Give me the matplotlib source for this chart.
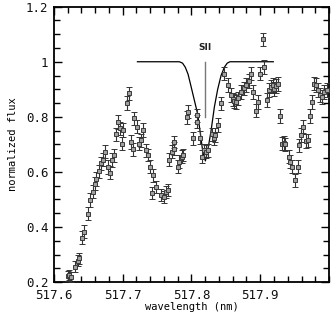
import matplotlib.pyplot as plt
from matplotlib.ticker import MultipleLocator

wl = [517.6198, 517.6226, 517.6246, 517.6300, 517.6343, 517.6357, 517.6405, 517.6444,
      517.6493, 517.6527, 517.6561, 517.6590, 517.6614, 517.6648, 517.6687, 517.6710,
      517.6745, 517.6793, 517.6808, 517.6851, 517.6866, 517.6900, 517.6938, 517.6963,
      517.6992, 517.7010, 517.7059, 517.7088, 517.7122, 517.7146, 517.7171, 517.7204,
      517.7243, 517.7268, 517.7301, 517.7340, 517.7364, 517.7398, 517.7428, 517.7436,
      517.7486, 517.7558, 517.7606, 517.7631, 517.7664, 517.7679, 517.7718, 517.7741,
      517.7752, 517.7800, 517.7824, 517.7863, 517.7882, 517.7940, 517.7955, 517.8017,
      517.8076, 517.8081, 517.8125, 517.8148, 517.8187, 517.8211, 517.8235, 517.8293,
      517.8322, 517.8347, 517.8381, 517.8430, 517.8478, 517.8526, 517.8575, 517.8599,
      517.8623, 517.8647, 517.8672, 517.8720, 517.8758, 517.8793, 517.8831, 517.8866,
      517.8889, 517.8938, 517.8962, 517.8996, 517.9034, 517.9059, 517.9092, 517.9131,
      517.9155, 517.9180, 517.9204, 517.9228, 517.9252, 517.9287, 517.9310, 517.9340,
      517.9364, 517.9412, 517.9432, 517.9456, 517.9505, 517.9543, 517.9567, 517.9592,
      517.9625, 517.9664, 517.9688, 517.9723, 517.9752, 517.9785, 517.9809, 517.9833,
      517.9868, 517.9897, 517.9930, 517.9964]
flux = [0.223, 0.226, 0.219, 0.256, 0.277, 0.286, 0.362, 0.383,
        0.449, 0.498, 0.528, 0.558, 0.574, 0.603, 0.631, 0.645,
        0.673, 0.618, 0.597, 0.643, 0.661, 0.736, 0.782, 0.758,
        0.703, 0.752, 0.849, 0.885, 0.709, 0.682, 0.794, 0.764,
        0.703, 0.715, 0.752, 0.679, 0.661, 0.619, 0.524, 0.588,
        0.546, 0.516, 0.510, 0.528, 0.534, 0.645, 0.673, 0.685,
        0.709, 0.619, 0.637, 0.655, 0.661, 0.798, 0.818, 0.722,
        0.806, 0.782, 0.725, 0.655, 0.679, 0.673, 0.679, 0.737,
        0.722, 0.734, 0.770, 0.849, 0.957, 0.915, 0.879, 0.863,
        0.858, 0.854, 0.867, 0.891, 0.903, 0.915, 0.931, 0.957,
        0.891, 0.822, 0.854, 0.957, 1.081, 0.981, 0.861, 0.897,
        0.910, 0.915, 0.900, 0.912, 0.919, 0.803, 0.703, 0.705,
        0.701, 0.655, 0.637, 0.619, 0.570, 0.619, 0.697, 0.734,
        0.764, 0.712, 0.715, 0.803, 0.854, 0.921, 0.915, 0.897,
        0.879, 0.873, 0.891, 0.897]
err = [0.018, 0.018, 0.018, 0.019, 0.020, 0.020, 0.022, 0.023,
       0.025, 0.025, 0.024, 0.024, 0.024, 0.024, 0.024, 0.024,
       0.024, 0.024, 0.024, 0.024, 0.024, 0.025, 0.025, 0.025,
       0.025, 0.025, 0.025, 0.025, 0.024, 0.024, 0.025, 0.024,
       0.024, 0.024, 0.024, 0.023, 0.023, 0.023, 0.022, 0.023,
       0.022, 0.022, 0.022, 0.022, 0.022, 0.023, 0.023, 0.023,
       0.023, 0.023, 0.023, 0.023, 0.023, 0.024, 0.024, 0.024,
       0.024, 0.024, 0.024, 0.023, 0.023, 0.023, 0.023, 0.024,
       0.024, 0.024, 0.024, 0.024, 0.025, 0.025, 0.025, 0.025,
       0.025, 0.025, 0.025, 0.025, 0.025, 0.025, 0.025, 0.025,
       0.025, 0.024, 0.024, 0.025, 0.025, 0.025, 0.025, 0.025,
       0.025, 0.025, 0.025, 0.025, 0.025, 0.024, 0.024, 0.024,
       0.024, 0.023, 0.023, 0.023, 0.023, 0.023, 0.024, 0.024,
       0.024, 0.024, 0.024, 0.024, 0.025, 0.025, 0.025, 0.025,
       0.025, 0.025, 0.025, 0.025]

# model line profile
model_wl = [517.7214, 517.7824, 517.7870, 517.7910, 517.7950, 517.7994, 517.8042,
            517.8090, 517.8129, 517.8166, 517.8202, 517.8238, 517.8285, 517.8333,
            517.8381, 517.8430, 517.8478, 517.8520, 517.8560, 517.9190]
model_flux = [1.000, 1.000, 0.995, 0.980, 0.955, 0.910, 0.860,
              0.810, 0.740, 0.670, 0.640, 0.680, 0.750, 0.836,
              0.900, 0.950, 0.980, 0.995, 1.000, 1.000]

line_wl = 517.8195
line_name = 'SII'

fig = plt.figure(figsize=(3.31, 3.17), dpi=100)
ax = fig.add_axes([0.163, 0.110, 0.831, 0.869])

ax.plot(model_wl, model_flux, color='black', lw=0.9, zorder=2)
ax.plot([line_wl, line_wl], [0.80, 1.0], color='#777777', lw=1.0, zorder=2)
ax.text(line_wl, 1.035, line_name, ha='center', va='bottom', fontsize=6.5,
        fontweight='bold', color='#222222')

ax.errorbar(wl, flux, yerr=err, fmt='s', ms=2.8, mfc='#a0a0a0', mec='#3a3a3a', mew=0.7,
            ecolor='#333333', elinewidth=0.8, capsize=2, capthick=0.8, zorder=3)

ax.set_xlim(517.6, 518.0)
ax.set_ylim(0.2, 1.2)
ax.xaxis.set_minor_locator(MultipleLocator(0.02))
ax.yaxis.set_minor_locator(MultipleLocator(0.05))
ax.set_xticks([517.6, 517.7, 517.8, 517.9])
ax.set_xticklabels(['517.6', '517.7', '517.8', '517.9'])
ax.set_yticks([0.2, 0.4, 0.6, 0.8, 1.0, 1.2])
ax.set_yticklabels(['0.2', '0.4', '0.6', '0.8', '1', '1.2'])

ax.tick_params(which='both', direction='in', top=True, right=True, width=1.0,
               labelsize=9, pad=4)
ax.tick_params(axis='x', which='major', pad=5)
ax.tick_params(which='major', length=6)
ax.tick_params(which='minor', length=4)
for lab in ax.get_xticklabels() + ax.get_yticklabels():
    lab.set_family('DejaVu Sans Mono')
    lab.set_color('#111111')
for s in ax.spines.values():
    s.set_linewidth(1.3)

ax.set_xlabel('wavelength (nm)', fontsize=7.5, family='DejaVu Sans Mono', labelpad=0)
ax.set_ylabel('normalized flux', fontsize=7.5, family='DejaVu Sans Mono', labelpad=6)

fig.savefig('out.png', dpi=100)
